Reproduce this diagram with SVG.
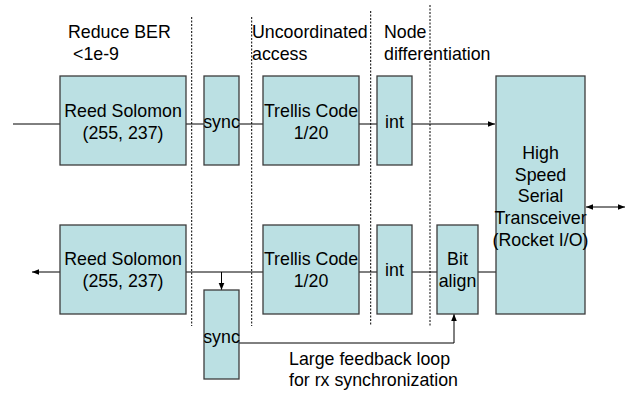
<svg xmlns="http://www.w3.org/2000/svg" width="631" height="393" viewBox="0 0 631 393">
<style>
.box{fill:#bbe0e3;stroke:#3c3c3c;stroke-width:1.3}
.t{font-family:"Liberation Sans",Arial,sans-serif;font-size:17.8px;fill:#000}
.c{text-anchor:middle}
.ln{stroke:#000;stroke-width:1;fill:none}
.dash{stroke:#000;stroke-width:1;stroke-dasharray:2,1.5;fill:none}
</style>
<defs>
<marker id="ah" viewBox="0 0 10 10" refX="10" refY="5" markerWidth="7" markerHeight="7" orient="auto-start-reverse" markerUnits="userSpaceOnUse">
<path d="M0,1 L10,5 L0,9 z" fill="#000"/>
</marker>
</defs>
<rect width="631" height="393" fill="#fff"/>
<g id="dividers">
<line class="dash" x1="191.7" y1="17" x2="191.7" y2="326"/>
<line class="dash" x1="251.7" y1="17" x2="251.7" y2="326"/>
<line class="dash" x1="370.7" y1="11" x2="370.7" y2="326"/>
<line class="dash" x1="430" y1="5" x2="430" y2="326"/>
</g>
<g id="labels">
<text class="t" x="68" y="38">Reduce BER</text>
<text class="t" x="73" y="60">&lt;1e-9</text>
<text class="t" x="252" y="38">Uncoordinated</text>
<text class="t" x="252" y="60">access</text>
<text class="t" x="384" y="38">Node</text>
<text class="t" x="384" y="60">differentiation</text>
<text class="t" x="289" y="365">Large feedback loop</text>
<text class="t" x="289" y="386">for rx synchronization</text>
</g>
<g id="connectors">
<line class="ln" x1="13" y1="124" x2="60" y2="124"/>
<line class="ln" x1="186" y1="124" x2="204" y2="124"/>
<line class="ln" x1="239" y1="124" x2="263" y2="124"/>
<line class="ln" x1="359" y1="124" x2="377" y2="124"/>
<line class="ln" x1="412" y1="124" x2="495" y2="124" marker-end="url(#ah)"/>
<line class="ln" x1="60" y1="272" x2="32" y2="272" marker-end="url(#ah)"/>
<line class="ln" x1="186" y1="272" x2="263" y2="272"/>
<line class="ln" x1="221.5" y1="272" x2="221.5" y2="290" marker-end="url(#ah)"/>
<line class="ln" x1="359" y1="272" x2="377" y2="272"/>
<line class="ln" x1="412" y1="272" x2="437" y2="272"/>
<line class="ln" x1="478" y1="272" x2="496" y2="272"/>
<line class="ln" x1="586" y1="207" x2="625" y2="207" marker-start="url(#ah)" marker-end="url(#ah)"/>
<polyline class="ln" points="239,343 454,343 454,314" marker-end="url(#ah)"/>
</g>
<g id="rs-tx"><rect class="box" x="60" y="76" width="126" height="89"/>
<text class="t c" x="123" y="117">Reed Solomon</text><text class="t c" x="123" y="139">(255, 237)</text></g>
<g id="sync-tx"><rect class="box" x="204" y="76" width="35" height="89"/>
<text class="t c" x="221.5" y="128">sync</text></g>
<g id="trellis-tx"><rect class="box" x="263" y="76" width="96" height="89"/>
<text class="t c" x="311" y="117">Trellis Code</text><text class="t c" x="311" y="139">1/20</text></g>
<g id="int-tx"><rect class="box" x="377" y="76" width="35" height="89"/>
<text class="t c" x="394.5" y="128">int</text></g>
<g id="hsst"><rect class="box" x="496" y="76" width="89" height="238"/>
<text class="t c" x="540.5" y="159">High</text>
<text class="t c" x="540.5" y="181">Speed</text>
<text class="t c" x="540.5" y="202">Serial</text>
<text class="t c" x="540.5" y="224">Transceiver</text>
<text class="t c" x="540.5" y="246">(Rocket I/O)</text></g>
<g id="rs-rx"><rect class="box" x="60" y="225" width="126" height="89"/>
<text class="t c" x="123" y="265">Reed Solomon</text><text class="t c" x="123" y="287">(255, 237)</text></g>
<g id="trellis-rx"><rect class="box" x="263" y="225" width="96" height="89"/>
<text class="t c" x="311" y="265">Trellis Code</text><text class="t c" x="311" y="287">1/20</text></g>
<g id="int-rx"><rect class="box" x="377" y="225" width="35" height="89"/>
<text class="t c" x="394.5" y="276">int</text></g>
<g id="bitalign"><rect class="box" x="437" y="225" width="41" height="89"/>
<text class="t c" x="457.5" y="265">Bit</text><text class="t c" x="457.5" y="287">align</text></g>
<g id="sync-rx"><rect class="box" x="204" y="290" width="35" height="89"/>
<text class="t c" x="221.5" y="343">sync</text></g>
</svg>
